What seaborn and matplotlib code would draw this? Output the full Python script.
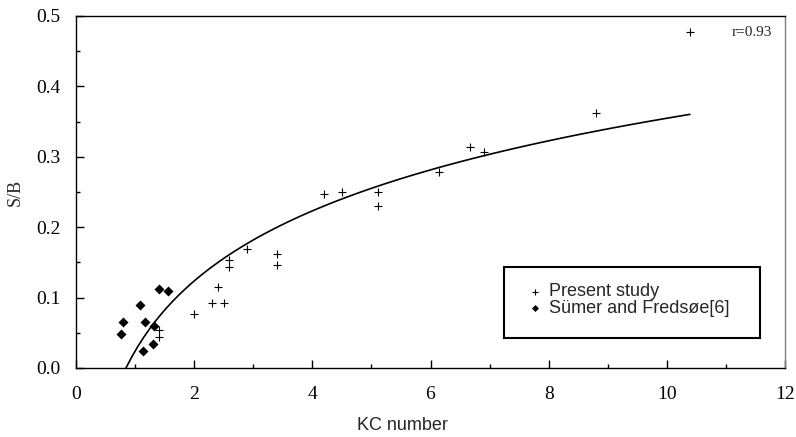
import numpy as np
import pandas as pd
import matplotlib
matplotlib.use("Agg")
import matplotlib.pyplot as plt
import seaborn as sns
from matplotlib.ticker import MultipleLocator, FormatStrFormatter
from matplotlib.patches import Rectangle

# present study (plus markers)
kc_present = [10.39, 8.80, 6.67, 6.90, 6.14, 4.20, 4.50, 5.11, 5.11, 2.89,
              3.40, 3.40, 2.59, 2.59, 2.41, 2.30, 2.50, 2.00, 1.41, 1.40]
sb_present = [0.477, 0.362, 0.314, 0.307, 0.278, 0.247, 0.250, 0.250, 0.230, 0.169,
              0.162, 0.146, 0.153, 0.143, 0.115, 0.092, 0.092, 0.077, 0.054, 0.044]

# Sumer and Fredsoe (diamonds)
kc_sumer = [0.76, 0.80, 1.08, 1.16, 1.14, 1.32, 1.30, 1.41, 1.56]
sb_sumer = [0.048, 0.065, 0.090, 0.065, 0.024, 0.060, 0.034, 0.112, 0.110]

df = pd.DataFrame({
    "KC": kc_present + kc_sumer,
    "SB": sb_present + sb_sumer,
})

sns.set_theme(style="white")
plt.rcParams["font.family"] = ["Liberation Serif", "DejaVu Serif"]
sans = ["Liberation Sans", "DejaVu Sans"]

fig = plt.figure(figsize=(7.96, 4.37), dpi=100)
ax = fig.add_axes([76 / 796, 1 - 368 / 437, 709 / 796, 352 / 437])

# log fit over all the data
sns.regplot(data=df, x="KC", y="SB", logx=True, scatter=False, ci=None,
            color="black", line_kws={"lw": 1.2}, ax=ax)

sns.scatterplot(x=kc_present, y=sb_present, marker="+", color="black",
                s=32, linewidth=0.8, label="Present study", ax=ax)
sns.scatterplot(x=kc_sumer, y=sb_sumer, marker="D", color="black",
                s=26, linewidth=0, label="Sümer and Fredsøe[6]", ax=ax)

ax.set_xlim(0, 12)
ax.set_ylim(0, 0.5)
ax.xaxis.set_major_locator(MultipleLocator(2))
ax.xaxis.set_minor_locator(MultipleLocator(1))
ax.yaxis.set_major_locator(MultipleLocator(0.1))
ax.yaxis.set_minor_locator(MultipleLocator(0.05))
ax.yaxis.set_major_formatter(FormatStrFormatter("%.1f"))

ax.tick_params(axis="both", which="both", direction="in", colors="black",
               bottom=True, left=True, top=False, right=False, labelsize=14)
ax.tick_params(axis="both", which="major", length=6, width=1)
ax.tick_params(axis="both", which="minor", length=3, width=1)
ax.tick_params(axis="x", which="major", pad=13)
ax.tick_params(axis="y", which="major", pad=11)

for side in ["left", "bottom", "top"]:
    ax.spines[side].set_color("black")
    ax.spines[side].set_linewidth(1.0)
ax.spines["right"].set_color("#808080")
ax.spines["right"].set_linewidth(1.0)

ax.set_xlabel("KC number", fontsize=13, family=sans)
ax.xaxis.set_label_coords(0.461, -0.139)
ax.set_ylabel("S/B", fontsize=13)
ax.yaxis.set_label_coords(-0.073, 0.5)

ax.text(11.1, 0.477, "r=0.93", fontsize=11, va="center", ha="left")

# legend box drawn separately, legend itself frameless
ax.add_patch(Rectangle((0.6037, 0.0852), 0.361, 0.2017, transform=ax.transAxes,
                       fill=False, edgecolor="black", linewidth=1.5, zorder=5))
leg = ax.legend(loc="center left", bbox_to_anchor=((528 - 76) / 709, (368 - 300) / 352),
                prop={"family": sans, "size": 13}, frameon=False,
                borderpad=0, labelspacing=-0.05, handlelength=0.8, handletextpad=0.35,
                markerscale=0.7, borderaxespad=0)

fig.savefig("out.png", dpi=100)
